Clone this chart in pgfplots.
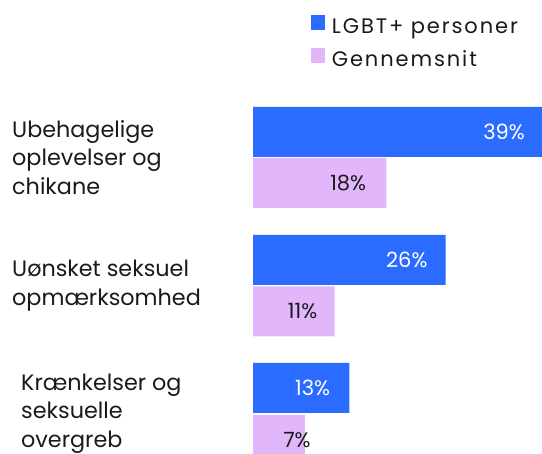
\documentclass[border=0pt]{standalone}
\usepackage{pgfplots}
\pgfplotsset{compat=1.18}
\usepackage{fontspec}
\setmainfont{Poppins}
\newfontfamily\legfont[LetterSpace=9]{Poppins}
\definecolor{lgbt}{HTML}{2B6BFF}
\definecolor{avg}{HTML}{E2B6FA}
\definecolor{txt}{HTML}{1A1A1A}
\begin{document}
\begin{tikzpicture}[x=1pt,y=1pt]
\path[use as bounding box] (0,0) rectangle (542,454);
\begin{axis}[
  at={(253pt,0pt)}, anchor=south west,
  scale only axis, width=289pt, height=454pt,
  xmin=0, xmax=39, ymin=0, ymax=454, y dir=reverse,
  axis lines=none, ticks=none,
  /pgf/number format/assume math mode=true,
  xbar, bar width=50pt, bar shift=0pt,
  nodes near coords={\pgfmathprintnumber{\pgfplotspointmeta}\%},
  point meta=explicit,
  visualization depends on={\thisrow{sh} \as \sh},
  every node near coord/.append style={anchor=east, inner sep=0pt, xshift=\sh pt, font=\fontsize{21}{21}\selectfont},
  legend image code/.code={\fill[#1] (0pt,-1pt) rectangle (14.4pt,13.4pt);},
  legend cell align=left,
  legend style={at={(axis cs:7.79,15.5)}, anchor=north west, draw=none, fill=none,
    inner sep=0pt, outer sep=0pt, row sep=10pt,
    nodes={inner sep=0pt, text height=14pt, text depth=5pt, font=\legfont\fontsize{21}{21}\selectfont, text=txt},
    /tikz/every odd column/.append style={column sep=6.7pt}},
]
\addplot[fill=lgbt, draw=none, nodes near coords style={text=white}] table[x=v, y=y, meta=v] {
v y sh
39 132 -17
26 260 -18
13 388 -19
};
\addlegendentry{LGBT+ personer}
\addplot[fill=avg, draw=none, nodes near coords style={text=txt}] table[x=v, y=y, meta=v] {
v y sh
18 183 -20
11 311.5 -17
7 440 6
};
\addlegendentry{Gennemsnit}
\end{axis}
\begin{scope}[every node/.style={anchor=west, align=left, inner sep=0pt, text=txt, font=\fontsize{22.3}{28.5}\selectfont}]
\node at (12, 454-157.5) {Ubehagelige\\oplevelser og\\chikane};
\node at (12, 454-285.5) {Uønsket seksuel\\opmærksomhed};
\node at (21, 454-413.5) {Krænkelser og\\seksuelle\\overgreb};
\end{scope}
\end{tikzpicture}
\end{document}
